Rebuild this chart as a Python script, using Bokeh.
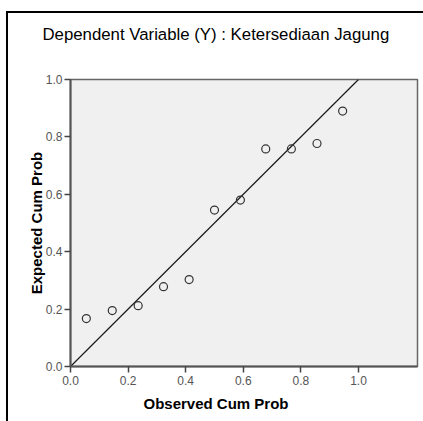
from bokeh.plotting import figure
from bokeh.models import Range1d, FixedTicker, PrintfTickFormatter, Title, InlineStyleSheet
from bokeh.embed import file_html
from bokeh.resources import INLINE

# data
observed = [0.055, 0.145, 0.235, 0.323, 0.412, 0.500, 0.590, 0.678, 0.767, 0.856, 0.945]
expected = [0.167, 0.195, 0.212, 0.278, 0.303, 0.545, 0.580, 0.758, 0.758, 0.777, 0.890]
ref_line_x = [0.0, 1.0]
ref_line_y = [0.0, 1.0]
ticks = [0.0, 0.2, 0.4, 0.6, 0.8, 1.0]
title_text = "Dependent Variable (Y) : Ketersediaan Jagung"
x_title = "Observed Cum Prob"
y_title = "Expected Cum Prob"

FONT = "Liberation Sans"

p = figure(width=423, height=421, output_backend="svg", toolbar_location=None,
           x_range=Range1d(0, 1.205), y_range=Range1d(0, 1.0),
           min_border_left=70, min_border_right=6, min_border_top=79, min_border_bottom=55)
p.background_fill_color = "#f0f0f0"
p.border_fill_color = "white"
p.outline_line_color = "#666666"
p.outline_line_width = 1.5
p.grid.visible = False

# trailing empty line lifts the title away from the frame
p.title.text = title_text + "\n"
p.title.align = "left"
p.title.vertical_align = "bottom"
p.title.offset = -28
p.title.standoff = 34
p.title.text_font = FONT
p.title.text_font_size = "16.8px"
p.title.text_font_style = "normal"
p.title.text_color = "black"

for ax in (p.xaxis[0], p.yaxis[0]):
    ax.ticker = FixedTicker(ticks=ticks)
    ax.formatter = PrintfTickFormatter(format="%.1f")
    ax.minor_tick_line_color = None
    ax.major_tick_in = 0
    ax.major_tick_out = 6
    ax.major_tick_line_color = "#444444"
    ax.major_tick_line_width = 1.5
    ax.axis_line_color = "#555555"
    ax.axis_line_width = 2
    ax.major_label_text_font = FONT
    ax.major_label_text_font_size = "12px"
    ax.major_label_text_color = "#555555"
p.xaxis.major_label_standoff = 3
p.yaxis.major_label_standoff = 2

p.yaxis.axis_label = y_title
p.yaxis.axis_label_text_font = FONT
p.yaxis.axis_label_text_font_size = "15px"
p.yaxis.axis_label_text_font_style = "bold"
p.yaxis.axis_label_text_color = "black"
p.yaxis.axis_label_standoff = -2

p.add_layout(Title(text=x_title, align="left", offset=73, text_font=FONT,
                   text_font_size="15px", text_font_style="bold",
                   text_color="black"), "below")

p.line(ref_line_x, ref_line_y, line_color="#1a1a1a", line_width=1.2)
p.scatter(observed, expected, size=8, marker="circle", fill_color=None,
          line_color="#333333", line_width=1.2)

p.stylesheets = [InlineStyleSheet(css="""
:host { position: relative; }
:host::after { content: ""; position: absolute; left: 6px; top: 11px; right: 0px; bottom: 0px;
  border-left: 2px solid black; border-top: 2px solid black; pointer-events: none; z-index: 10; }
""")]

open("out.html", "w").write(file_html(p, INLINE))
